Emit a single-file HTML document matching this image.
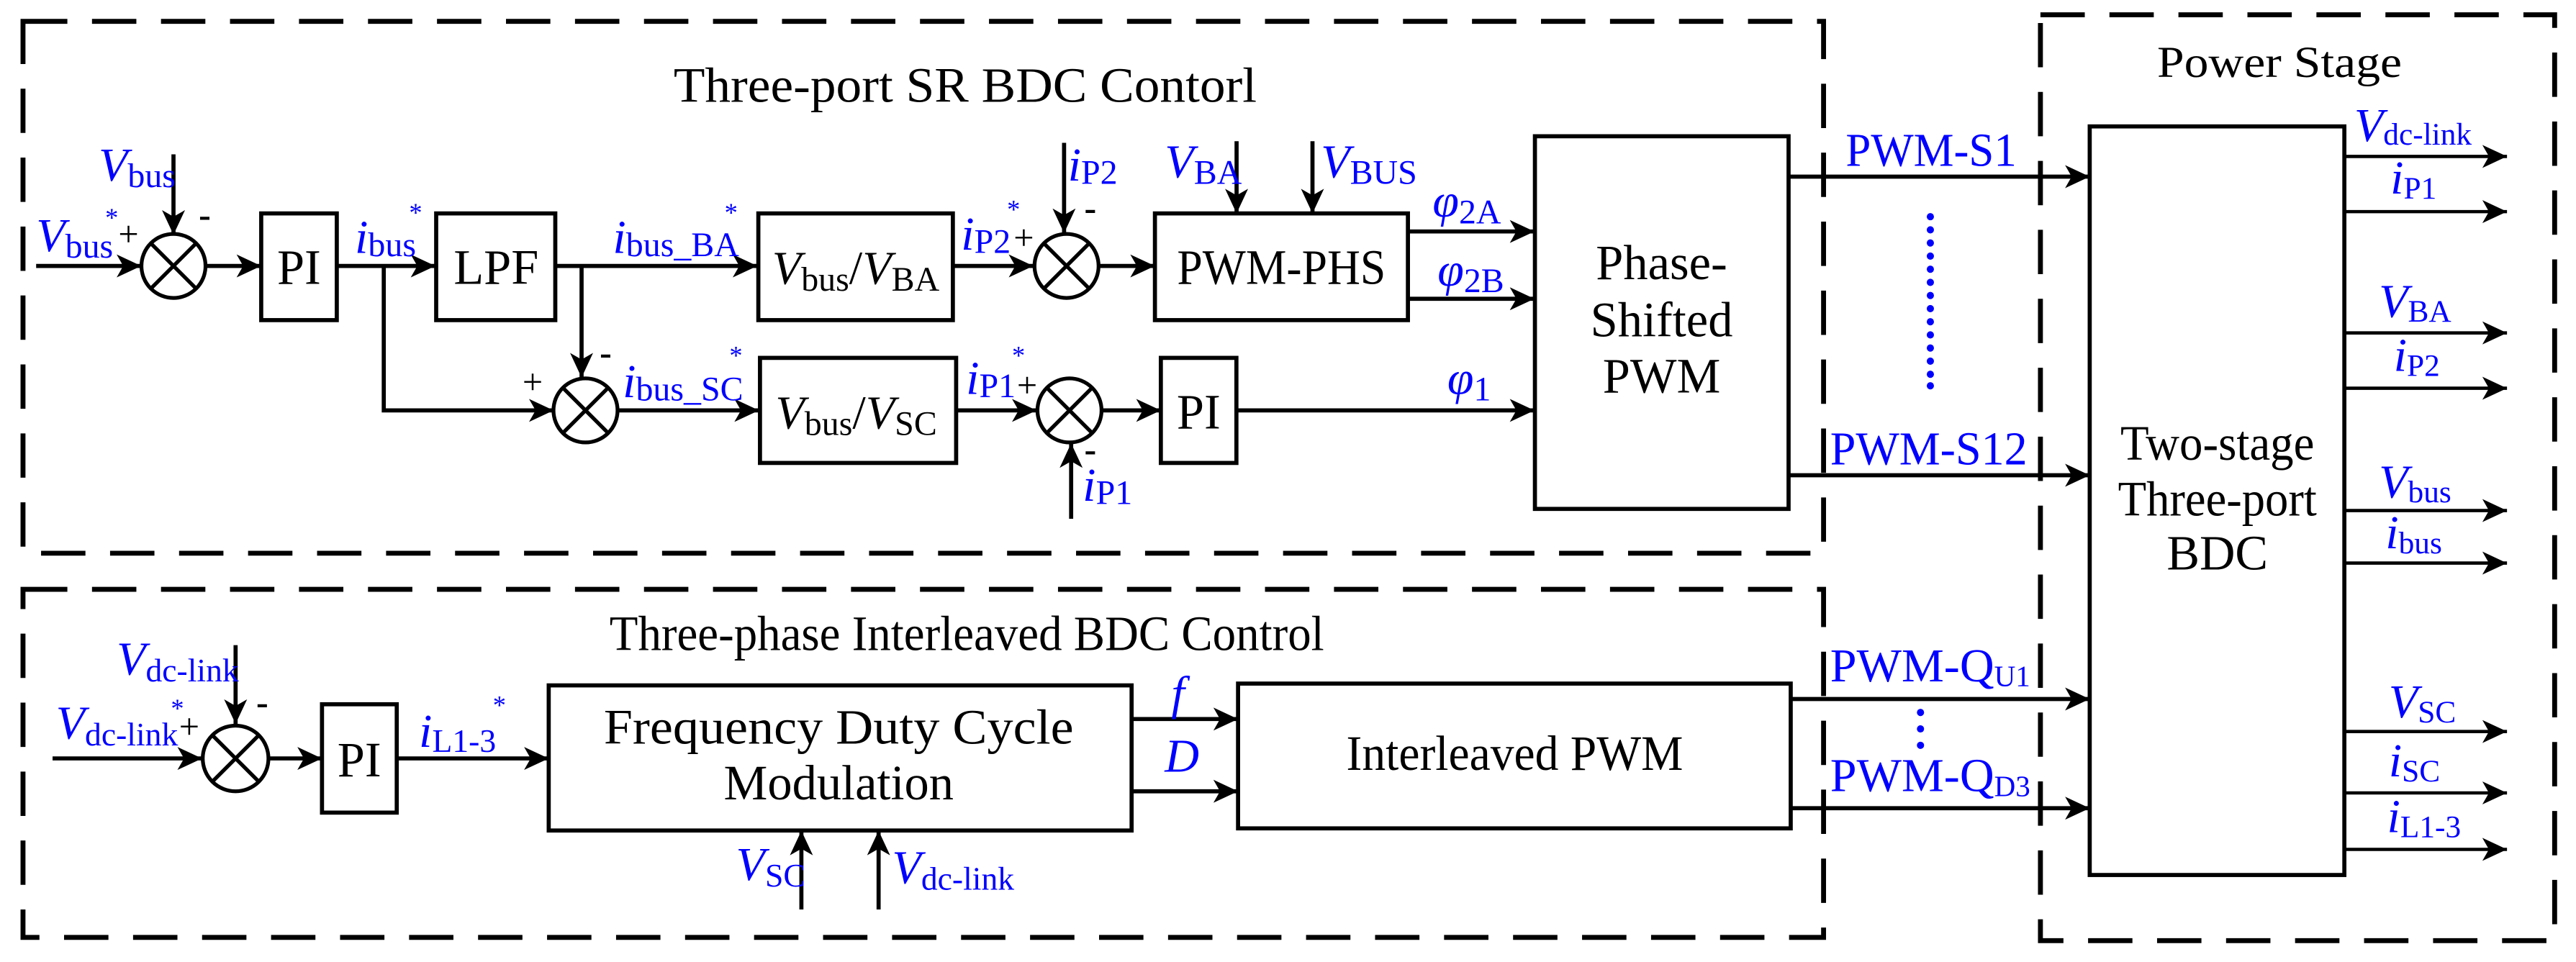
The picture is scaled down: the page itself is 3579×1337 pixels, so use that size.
<!DOCTYPE html>
<html><head><meta charset="utf-8"><style>
html,body{margin:0;padding:0;background:#fff;}
svg{display:block;}
svg, text{font-family:"Liberation Serif","Times New Roman","DejaVu Serif",serif;}
.b{fill:#00f;}
.k{fill:#000;}
</style></head><body>
<svg width="3579" height="1337" viewBox="0 0 1568 586" preserveAspectRatio="none" xmlns="http://www.w3.org/2000/svg" font-family="Liberation Serif, serif">
<defs>
<marker id="a" markerWidth="16" markerHeight="14" refX="15" refY="7" orient="auto" markerUnits="userSpaceOnUse"><path d="M0,0 L15,7 L0,14 L4,7 z" fill="#000"/></marker>
</defs>
<rect width="1568" height="586" fill="#fff"/>
<g fill="none" stroke="#000" stroke-width="3" stroke-dasharray="27 15">
<rect x="14" y="13" width="1096" height="324"/>
<rect x="14" y="359" width="1096" height="212"/>
<rect x="1242" y="9" width="313" height="564"/>
</g>
<text x="410" y="62" font-size="30" textLength="355" lengthAdjust="spacingAndGlyphs">Three-port SR BDC Contorl</text>
<text x="371" y="396" font-size="30" textLength="435" lengthAdjust="spacingAndGlyphs">Three-phase Interleaved BDC Control</text>
<text x="1313" y="47" font-size="27" textLength="149" lengthAdjust="spacingAndGlyphs">Power  Stage</text>

<g stroke="#000" stroke-width="2.5" fill="none">
<line x1="22" y1="162" x2="86" y2="162" marker-end="url(#a)"/>
<line x1="105.6" y1="94" x2="105.6" y2="143" marker-end="url(#a)"/>
<line x1="125" y1="162" x2="159" y2="162" marker-end="url(#a)"/>
<line x1="205" y1="162" x2="265" y2="162" marker-end="url(#a)"/>
<polyline points="233.6,162 233.6,250 337,250" marker-end="url(#a)"/>
<line x1="338" y1="162" x2="461" y2="162" marker-end="url(#a)"/>
<line x1="354" y1="162" x2="354" y2="230" marker-end="url(#a)"/>
<line x1="376" y1="250" x2="462" y2="250" marker-end="url(#a)"/>
<line x1="580" y1="162" x2="629" y2="162" marker-end="url(#a)"/>
<line x1="647.7" y1="87" x2="647.7" y2="142" marker-end="url(#a)"/>
<line x1="669" y1="162" x2="703" y2="162" marker-end="url(#a)"/>
<line x1="752.7" y1="86" x2="752.7" y2="130" marker-end="url(#a)"/>
<line x1="798.9" y1="86" x2="798.9" y2="130" marker-end="url(#a)"/>
<line x1="857" y1="141" x2="934" y2="141" marker-end="url(#a)"/>
<line x1="857" y1="182" x2="934" y2="182" marker-end="url(#a)"/>
<line x1="582" y1="250" x2="631" y2="250" marker-end="url(#a)"/>
<line x1="652" y1="316" x2="652" y2="270" marker-end="url(#a)"/>
<line x1="671" y1="250" x2="706.6" y2="250" marker-end="url(#a)"/>
<line x1="752.7" y1="250" x2="934" y2="250" marker-end="url(#a)"/>
<line x1="1088.7" y1="107.6" x2="1272" y2="107.6" marker-end="url(#a)"/>
<line x1="1088.7" y1="289.5" x2="1272" y2="289.5" marker-end="url(#a)"/>
<line x1="32" y1="462" x2="123" y2="462" marker-end="url(#a)"/>
<line x1="143.4" y1="393" x2="143.4" y2="441" marker-end="url(#a)"/>
<line x1="163.4" y1="462" x2="196" y2="462" marker-end="url(#a)"/>
<line x1="241.5" y1="462" x2="334" y2="462" marker-end="url(#a)"/>
<line x1="688.8" y1="438" x2="753.6" y2="438" marker-end="url(#a)"/>
<line x1="688.8" y1="482" x2="753.6" y2="482" marker-end="url(#a)"/>
<line x1="487.8" y1="554" x2="487.8" y2="506" marker-end="url(#a)"/>
<line x1="534.8" y1="554" x2="534.8" y2="506" marker-end="url(#a)"/>
<line x1="1090" y1="425.8" x2="1272" y2="425.8" marker-end="url(#a)"/>
<line x1="1090" y1="492.3" x2="1272" y2="492.3" marker-end="url(#a)"/>
</g>
<g stroke="#000" stroke-width="2" fill="none">
<line x1="1427" y1="95.3" x2="1526" y2="95.3" marker-end="url(#a)"/>
<line x1="1427" y1="128.9" x2="1526" y2="128.9" marker-end="url(#a)"/>
<line x1="1427" y1="202.8" x2="1526" y2="202.8" marker-end="url(#a)"/>
<line x1="1427" y1="236.5" x2="1526" y2="236.5" marker-end="url(#a)"/>
<line x1="1427" y1="311" x2="1526" y2="311" marker-end="url(#a)"/>
<line x1="1427" y1="343" x2="1526" y2="343" marker-end="url(#a)"/>
<line x1="1427" y1="445.6" x2="1526" y2="445.6" marker-end="url(#a)"/>
<line x1="1427" y1="483" x2="1526" y2="483" marker-end="url(#a)"/>
<line x1="1427" y1="517.4" x2="1526" y2="517.4" marker-end="url(#a)"/>
</g>

<g stroke="#000" stroke-width="2.5" fill="#fff">
<rect x="159" y="130" width="46" height="65"/>
<rect x="265.5" y="130" width="72.5" height="65"/>
<rect x="461.6" y="130" width="118.4" height="65"/>
<rect x="462.6" y="218" width="119.4" height="64"/>
<rect x="703" y="130" width="154" height="65"/>
<rect x="706.6" y="218" width="46" height="64"/>
<rect x="934.3" y="83" width="154.4" height="227"/>
<rect x="196" y="429" width="45.5" height="66"/>
<rect x="334" y="417.5" width="354.8" height="88.4"/>
<rect x="753.6" y="416.4" width="336.4" height="88.2"/>
<rect x="1272" y="77" width="155" height="456"/>
</g>
<g stroke="#000" stroke-width="2.3" fill="#fff">
<g transform="translate(105.6,162)"><circle r="19.5"/><line x1="-13.8" y1="-13.8" x2="13.8" y2="13.8"/><line x1="-13.8" y1="13.8" x2="13.8" y2="-13.8"/></g>
<g transform="translate(356.4,250)"><circle r="19.5"/><line x1="-13.8" y1="-13.8" x2="13.8" y2="13.8"/><line x1="-13.8" y1="13.8" x2="13.8" y2="-13.8"/></g>
<g transform="translate(649.2,162)"><circle r="19.5"/><line x1="-13.8" y1="-13.8" x2="13.8" y2="13.8"/><line x1="-13.8" y1="13.8" x2="13.8" y2="-13.8"/></g>
<g transform="translate(651,250)"><circle r="19.5"/><line x1="-13.8" y1="-13.8" x2="13.8" y2="13.8"/><line x1="-13.8" y1="13.8" x2="13.8" y2="-13.8"/></g>
<g transform="translate(143.4,462)"><circle r="20"/><line x1="-14" y1="-14" x2="14" y2="14"/><line x1="-14" y1="14" x2="14" y2="-14"/></g>
</g>

<g class="k" text-anchor="middle" font-size="30">
<text x="182" y="173">PI</text>
<text x="302" y="173">LPF</text>
<text x="729.6" y="261">PI</text>
<text x="780" y="173" textLength="127" lengthAdjust="spacingAndGlyphs">PWM-PHS</text>
<text x="1011.4" y="170">Phase-</text>
<text x="1011.4" y="205">Shifted</text>
<text x="1011.4" y="239">PWM</text>
<text x="218.7" y="473">PI</text>
<text x="510.5" y="453" textLength="286" lengthAdjust="spacingAndGlyphs">Frequency Duty Cycle</text>
<text x="510.5" y="487">Modulation</text>
<text x="922" y="469" textLength="205" lengthAdjust="spacingAndGlyphs">Interleaved PWM</text>
<text x="1349.7" y="280" textLength="118" lengthAdjust="spacingAndGlyphs">Two-stage</text>
<text x="1349.7" y="314" textLength="121" lengthAdjust="spacingAndGlyphs">Three-port</text>
<text x="1349.7" y="347">BDC</text>
</g>
<text class="k" x="470" y="173" font-size="29"><tspan font-style="italic">V</tspan><tspan font-size="21" dy="4">bus</tspan><tspan dy="-4">/</tspan><tspan font-style="italic">V</tspan><tspan font-size="21" dy="4">BA</tspan></text>
<text class="k" x="472" y="261" font-size="29"><tspan font-style="italic">V</tspan><tspan font-size="21" dy="4">bus</tspan><tspan dy="-4">/</tspan><tspan font-style="italic">V</tspan><tspan font-size="21" dy="4">SC</tspan></text>

<g class="k" font-size="22">
<text x="72" y="150">+</text>
<text x="121" y="138" font-weight="bold">-</text>
<text x="318" y="240">+</text>
<text x="365" y="222" font-weight="bold">-</text>
<text x="617" y="152">+</text>
<text x="660" y="134" font-weight="bold">-</text>
<text x="619" y="242">+</text>
<text x="660" y="281" font-weight="bold">-</text>
<text x="109" y="450">+</text>
<text x="156" y="435" font-weight="bold">-</text>
</g>

<g class="b" font-size="29">
<text x="22" y="153"><tspan font-style="italic">V</tspan><tspan font-size="21" dy="4">bus</tspan></text>
<text x="64" y="138" font-size="16">*</text>
<text x="60" y="110"><tspan font-style="italic">V</tspan><tspan font-size="21" dy="4">bus</tspan></text>
<text x="216" y="154"><tspan font-style="italic">i</tspan><tspan font-size="21" dy="2">bus</tspan></text>
<text x="249" y="135" font-size="16">*</text>
<text x="373" y="154"><tspan font-style="italic">i</tspan><tspan font-size="21" dy="2">bus_BA</tspan></text>
<text x="441" y="135" font-size="16">*</text>
<text x="379" y="242"><tspan font-style="italic">i</tspan><tspan font-size="21" dy="2">bus_SC</tspan></text>
<text x="444" y="222" font-size="16">*</text>
<text x="585" y="152"><tspan font-style="italic">i</tspan><tspan font-size="21" dy="2">P2</tspan></text>
<text x="613" y="133" font-size="16">*</text>
<text x="650" y="110"><tspan font-style="italic">i</tspan><tspan font-size="21" dy="2">P2</tspan></text>
<text x="709" y="108"><tspan font-style="italic">V</tspan><tspan font-size="21" dy="4">BA</tspan></text>
<text x="804" y="108"><tspan font-style="italic">V</tspan><tspan font-size="21" dy="4">BUS</tspan></text>
<text x="872" y="132"><tspan font-style="italic">φ</tspan><tspan font-size="21" dy="4">2A</tspan></text>
<text x="875" y="174"><tspan font-style="italic">φ</tspan><tspan font-size="21" dy="4">2B</tspan></text>
<text x="588" y="240"><tspan font-style="italic">i</tspan><tspan font-size="21" dy="2">P1</tspan></text>
<text x="616" y="222" font-size="16">*</text>
<text x="659" y="305"><tspan font-style="italic">i</tspan><tspan font-size="21" dy="2">P1</tspan></text>
<text x="881" y="240"><tspan font-style="italic">φ</tspan><tspan font-size="21" dy="4">1</tspan></text>

<text x="1123.5" y="101" textLength="104" lengthAdjust="spacingAndGlyphs">PWM-S1</text>
<text x="1114" y="283" textLength="120" lengthAdjust="spacingAndGlyphs">PWM-S12</text>
<text x="1114" y="415"><tspan>PWM-Q</tspan><tspan font-size="18" dy="3">U1</tspan></text>
<text x="1114" y="482"><tspan>PWM-Q</tspan><tspan font-size="18" dy="3">D3</tspan></text>

<text x="1433" y="86"><tspan font-style="italic">V</tspan><tspan font-size="19" dy="2">dc-link</tspan></text>
<text x="1455" y="118"><tspan font-style="italic">i</tspan><tspan font-size="19" dy="3">P1</tspan></text>
<text x="1448" y="193"><tspan font-style="italic">V</tspan><tspan font-size="19" dy="3">BA</tspan></text>
<text x="1457" y="226"><tspan font-style="italic">i</tspan><tspan font-size="19" dy="3">P2</tspan></text>
<text x="1448" y="303"><tspan font-style="italic">V</tspan><tspan font-size="19" dy="3">bus</tspan></text>
<text x="1452" y="334"><tspan font-style="italic">i</tspan><tspan font-size="19" dy="3">bus</tspan></text>
<text x="1454" y="437"><tspan font-style="italic">V</tspan><tspan font-size="19" dy="3">SC</tspan></text>
<text x="1454" y="473"><tspan font-style="italic">i</tspan><tspan font-size="19" dy="3">SC</tspan></text>
<text x="1453" y="507"><tspan font-style="italic">i</tspan><tspan font-size="19" dy="3">L1-3</tspan></text>

<text x="34" y="450"><tspan font-style="italic">V</tspan><tspan font-size="20" dy="4">dc-link</tspan></text>
<text x="104" y="437" font-size="16">*</text>
<text x="71" y="411"><tspan font-style="italic">V</tspan><tspan font-size="20" dy="4">dc-link</tspan></text>
<text x="255" y="455"><tspan font-style="italic">i</tspan><tspan font-size="20" dy="3">L1-3</tspan></text>
<text x="300" y="435" font-size="16">*</text>
<text x="713" y="432" font-style="italic">f</text>
<text x="709" y="470" font-style="italic">D</text>
<text x="448" y="536"><tspan font-style="italic">V</tspan><tspan font-size="20" dy="4">SC</tspan></text>
<text x="543" y="538"><tspan font-style="italic">V</tspan><tspan font-size="20" dy="4">dc-link</tspan></text>
</g>
<g fill="#00f">
<circle cx="1175" cy="132" r="2.2"/><circle cx="1175" cy="140" r="2.2"/><circle cx="1175" cy="148" r="2.2"/><circle cx="1175" cy="156" r="2.2"/><circle cx="1175" cy="164" r="2.2"/><circle cx="1175" cy="172" r="2.2"/><circle cx="1175" cy="180" r="2.2"/><circle cx="1175" cy="188" r="2.2"/><circle cx="1175" cy="196" r="2.2"/><circle cx="1175" cy="204" r="2.2"/><circle cx="1175" cy="212" r="2.2"/><circle cx="1175" cy="220" r="2.2"/><circle cx="1175" cy="228" r="2.2"/><circle cx="1175" cy="235" r="2.2"/>
<circle cx="1169" cy="434" r="2.2"/><circle cx="1169" cy="444" r="2.2"/><circle cx="1169" cy="454" r="2.2"/>
</g>
</svg>
</body></html>
